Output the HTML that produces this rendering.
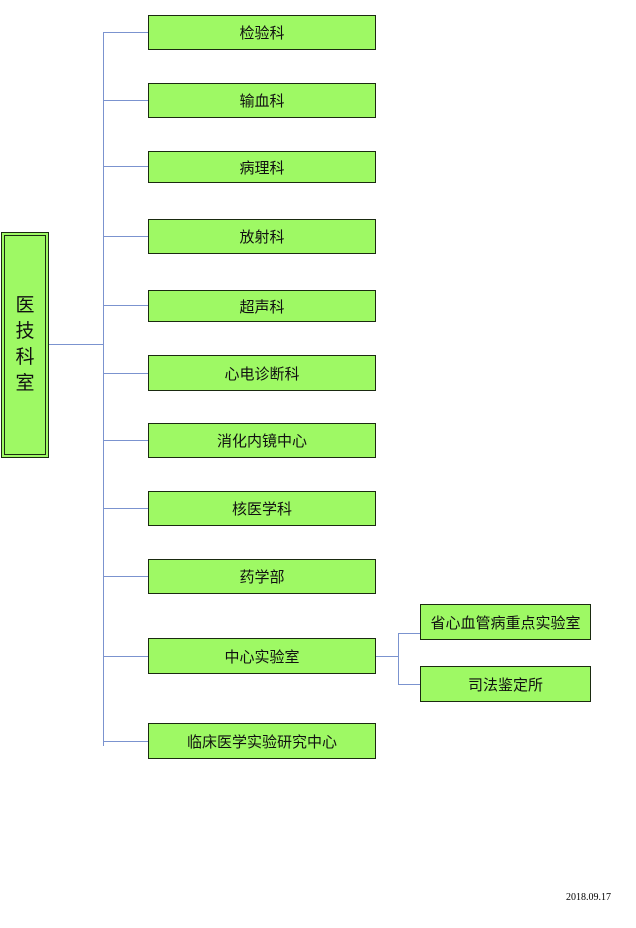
<!DOCTYPE html>
<html><head><meta charset="utf-8"><style>
body{margin:0;width:636px;height:928px;background:#fff;position:relative;font-family:"Liberation Sans","Noto Sans CJK SC",sans-serif;overflow:hidden}
.b{position:absolute;background:#9ef964;border:1px solid #1a2a10;box-sizing:border-box;display:flex;align-items:center;justify-content:center;font-size:15px;color:#111}
.l{position:absolute;background:#7b93cf}
</style></head><body>
<div class="l" style="left:103px;top:32px;width:1px;height:714px"></div>
<div class="l" style="left:49px;top:344px;width:54px;height:1px"></div>
<div class="b" style="left:1px;top:232px;width:48px;height:226px;border:1px solid #1a2a10;box-shadow:inset 0 0 0 2px #9ef964,inset 0 0 0 3px #1a2a10;flex-direction:column;font-size:19px;line-height:26px">医<br>技<br>科<br>室</div>
<div class="l" style="left:103px;top:32px;width:45px;height:1px"></div><div class="b" style="left:148px;top:15px;width:228px;height:35px">检验科</div>
<div class="l" style="left:103px;top:100px;width:45px;height:1px"></div><div class="b" style="left:148px;top:83px;width:228px;height:35px">输血科</div>
<div class="l" style="left:103px;top:166px;width:45px;height:1px"></div><div class="b" style="left:148px;top:151px;width:228px;height:32px">病理科</div>
<div class="l" style="left:103px;top:236px;width:45px;height:1px"></div><div class="b" style="left:148px;top:219px;width:228px;height:35px">放射科</div>
<div class="l" style="left:103px;top:305px;width:45px;height:1px"></div><div class="b" style="left:148px;top:290px;width:228px;height:32px">超声科</div>
<div class="l" style="left:103px;top:373px;width:45px;height:1px"></div><div class="b" style="left:148px;top:355px;width:228px;height:36px">心电诊断科</div>
<div class="l" style="left:103px;top:440px;width:45px;height:1px"></div><div class="b" style="left:148px;top:423px;width:228px;height:35px">消化内镜中心</div>
<div class="l" style="left:103px;top:508px;width:45px;height:1px"></div><div class="b" style="left:148px;top:491px;width:228px;height:35px">核医学科</div>
<div class="l" style="left:103px;top:576px;width:45px;height:1px"></div><div class="b" style="left:148px;top:559px;width:228px;height:35px">药学部</div>
<div class="l" style="left:103px;top:656px;width:45px;height:1px"></div><div class="b" style="left:148px;top:638px;width:228px;height:36px">中心实验室</div>
<div class="l" style="left:103px;top:741px;width:45px;height:1px"></div><div class="b" style="left:148px;top:723px;width:228px;height:36px">临床医学实验研究中心</div>
<div class="l" style="left:376px;top:656px;width:22px;height:1px"></div>
<div class="l" style="left:398px;top:633px;width:1px;height:52px"></div>
<div class="l" style="left:398px;top:633px;width:22px;height:1px"></div>
<div class="l" style="left:398px;top:684px;width:22px;height:1px"></div>
<div class="b" style="left:420px;top:604px;width:171px;height:36px">省心血管病重点实验室</div>
<div class="b" style="left:420px;top:666px;width:171px;height:36px">司法鉴定所</div>
<div style="position:absolute;left:566px;top:892px;font-family:'Liberation Serif',serif;font-size:10px">2018.09.17</div>
</body></html>
